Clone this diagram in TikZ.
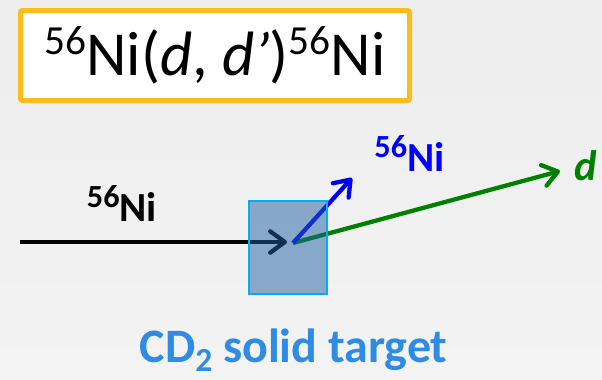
\documentclass[tikz,border=0pt]{standalone}
\usepackage{fontspec}
\setmainfont{Carlito}
\usetikzlibrary{arrows.meta,positioning}
\definecolor{titlegold}{HTML}{FBBC1E}
\definecolor{targetfill}{HTML}{1E60A0}
\definecolor{targetedge}{HTML}{00B0F0}
\definecolor{dgreen}{HTML}{008000}
\definecolor{cdblue}{HTML}{2E8BE6}
\definecolor{bgtop}{HTML}{EDEDED}
\definecolor{bgbot}{HTML}{F3F3F3}
% mass number raised in front of the element
\newcommand{\massnum}[2][0.78]{\raisebox{0.33em}{\scalebox{#1}{#2}}}
\newcommand{\lowidx}[1]{\raisebox{-0.2em}{\scalebox{0.7}{#1}}}
\tikzset{
  titlebox/.style={rectangle, draw=titlegold, line width=3.75pt, fill=white,
                   rounded corners=1.5pt, minimum width=291.75pt, minimum height=67.5pt,
                   font=\fontsize{47}{52}\selectfont},
  targetbox/.style={rectangle, draw=targetedge, line width=1.5pt,
                    fill=targetfill, fill opacity=0.5, draw opacity=1,
                    minimum width=58.5pt, minimum height=69.75pt},
  lbl/.style={inner sep=0pt, font=\fontsize{31}{36}\selectfont\bfseries},
  beam/.style={line width=3.2pt,
               -{Straight Barb[length=11pt, width=16pt, round]}}
}
\begin{document}
\begin{tikzpicture}[x=0.75pt, y=-0.75pt]
  \useasboundingbox (0,0) rectangle (602,379);
  \shade[top color=bgtop, bottom color=bgbot] (0,0) rectangle (602,379);

  % reaction
  \node[titlebox] (title) at (215,55.5)
    {\massnum[0.66]{56}Ni(\textit{d}, \textit{d’})\massnum[0.66]{56}Ni};

  % beams
  \coordinate (start) at (20,242);
  \coordinate (hit) at (293,243);
  \coordinate (nitip) at (352,178);
  \coordinate (dtip) at (560,171);
  \draw[beam, black] (start) -- (287,242) coordinate (intip);
  \draw[beam, dgreen] (hit) -- (dtip);
  \draw[beam, blue] (hit) -- (nitip);

  % target on top
  \node[targetbox] (target) at (288,247.5) {};

  % labels
  \node[lbl, anchor=base] (inlbl) at (122,221) {\massnum{56}Ni};
  \node[lbl, anchor=base, text=blue] (outlbl) at (409.5,171) {\massnum{56}Ni};
  \node[lbl, text=dgreen, anchor=base west, font=\fontsize{32}{36}\selectfont\bfseries\itshape]
    (dlbl) at (574,180) {d};
  \node[inner sep=0pt, anchor=base, text=cdblue, font=\fontsize{36}{40}\selectfont\bfseries]
    (tgtlbl) at (293.5,362) {CD\lowidx{2} solid target};
\end{tikzpicture}
\end{document}
